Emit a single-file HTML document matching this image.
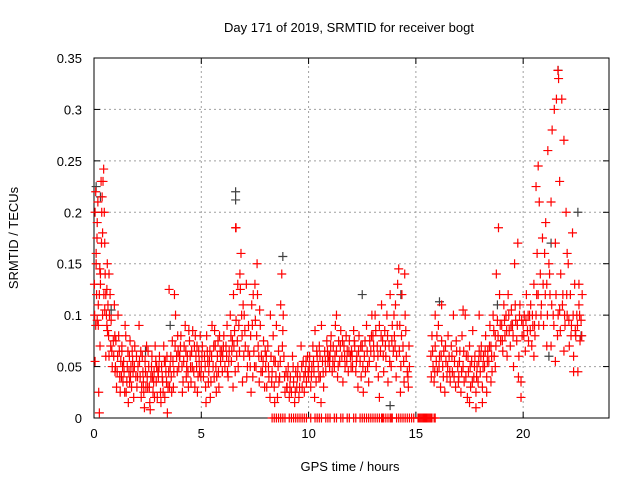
<!DOCTYPE html>
<html><head><meta charset="utf-8"><style>
html,body{margin:0;padding:0;background:#fff}
svg{display:block;font-family:"Liberation Sans",sans-serif}
</style></head><body>
<svg id="chart" width="640" height="480" viewBox="0 0 640 480" xmlns="http://www.w3.org/2000/svg">
<rect x="0" y="0" width="640" height="480" fill="#fff"/>
<g id="grid"></g>
<g id="axes"></g>
<g id="marks"></g>
<text x="349" y="32" font-size="13" text-anchor="middle" fill="#000">Day 171 of 2019, SRMTID for receiver bogt</text>
<text x="350" y="471" font-size="13" text-anchor="middle" fill="#000">GPS time / hours</text>
<text x="0" y="0" font-size="13" text-anchor="middle" fill="#000" transform="translate(18,238) rotate(-90)">SRMTID / TECUs</text>
</svg>
<script>
const xTicks=[0,5,10,15,20];
const yTicks=[0,0.05,0.1,0.15,0.2,0.25,0.3,0.35];
const yTickLabels=["0","0.05","0.1","0.15","0.2","0.25","0.3","0.35"];
const darkPoints=[[0.1,0.225],[0.3,0.215],[0.8,0.105],[6.6,0.22],[6.6,0.212],[8.8,0.157],[3.55,0.09],[12.5,0.12],[16.1,0.113],[18.8,0.11],[21.63,0.338],[21.3,0.17],[21.2,0.06],[22.55,0.2],[22.7,0.08],[13.8,0.012],[19.5,0.09],[2.4,0.065],[14.3,0.12]];
const redPoints=[
[0.02,0.13],[0.05,0.2],[0.08,0.22],[0.1,0.15],[0.12,0.12],[0.15,0.19],[0.18,0.21],[0.2,0.09],[0.22,0.025],[0.25,0.005],[0.28,0.07],[0.3,0.14],[0.33,0.23],[0.36,0.2],[0.4,0.18],[0.42,0.23],[0.45,0.242],[0.48,0.2],[0.5,0.17],[0.52,0.14],[0.55,0.12],[0.58,0.1],[0.6,0.09],[0.62,0.15],[0.65,0.11],[0.68,0.08],[0.7,0.06],[0.72,0.1],[0.75,0.12],[0.78,0.07],[0.8,0.095],[0.85,0.05],[0.9,0.075],[0.92,0.06],[0.95,0.11],[0.98,0.045],[0.1,0.16],[0.3,0.13],[0.6,0.125],[0.15,0.095],[0.4,0.1],[0.5,0.105],[0.05,0.055],[0.2,0.11],[0.7,0.14],[0.35,0.17],[0.25,0.12],
[1.0,0.05],[1.05,0.03],[1.1,0.06],[1.15,0.08],[1.2,0.04],[1.25,0.055],[1.3,0.07],[1.35,0.035],[1.4,0.045],[1.45,0.09],[1.5,0.025],[1.55,0.05],[1.6,0.015],[1.65,0.06],[1.7,0.04],[1.75,0.03],[1.8,0.055],[1.85,0.02],[1.9,0.07],[1.95,0.04],[1.12,0.1],[1.3,0.065],[1.48,0.08],[1.66,0.035],[1.82,0.045],[1.02,0.075],[1.22,0.025],[1.58,0.065],[1.72,0.05],
[2.0,0.03],[2.05,0.05],[2.1,0.09],[2.15,0.04],[2.2,0.02],[2.25,0.06],[2.3,0.035],[2.35,0.01],[2.4,0.045],[2.45,0.07],[2.5,0.03],[2.55,0.05],[2.6,0.015],[2.65,0.04],[2.7,0.06],[2.75,0.025],[2.8,0.045],[2.85,0.07],[2.9,0.035],[2.95,0.02],[2.12,0.055],[2.32,0.025],[2.52,0.065],[2.72,0.04],[2.92,0.05],[2.62,0.008],[2.42,0.03],
[3.0,0.04],[3.05,0.06],[3.1,0.025],[3.15,0.05],[3.2,0.035],[3.25,0.07],[3.3,0.02],[3.35,0.045],[3.4,0.06],[3.45,0.03],[3.5,0.125],[3.55,0.05],[3.6,0.04],[3.65,0.075],[3.7,0.03],[3.75,0.12],[3.8,0.1],[3.85,0.06],[3.9,0.08],[3.95,0.05],[3.12,0.015],[3.32,0.055],[3.52,0.03],[3.72,0.045],[3.92,0.065],[3.42,0.005],
[4.0,0.06],[4.05,0.08],[4.1,0.05],[4.15,0.035],[4.2,0.07],[4.25,0.09],[4.3,0.04],[4.35,0.06],[4.4,0.03],[4.45,0.075],[4.5,0.05],[4.55,0.065],[4.6,0.085],[4.65,0.045],[4.7,0.03],[4.75,0.06],[4.8,0.07],[4.85,0.04],[4.9,0.055],[4.95,0.08],[4.12,0.025],[4.32,0.05],[4.52,0.035],[4.72,0.08],[4.92,0.045],
[5.0,0.05],[5.05,0.07],[5.1,0.04],[5.15,0.06],[5.2,0.03],[5.25,0.08],[5.3,0.055],[5.35,0.045],[5.4,0.065],[5.45,0.035],[5.5,0.09],[5.55,0.05],[5.6,0.04],[5.65,0.07],[5.7,0.025],[5.75,0.06],[5.8,0.045],[5.85,0.08],[5.9,0.055],[5.95,0.065],[5.22,0.015],[5.42,0.02],[5.62,0.085],[5.82,0.03],
[6.0,0.06],[6.05,0.08],[6.1,0.05],[6.15,0.07],[6.2,0.09],[6.25,0.04],[6.3,0.065],[6.35,0.1],[6.4,0.055],[6.45,0.075],[6.5,0.12],[6.55,0.085],[6.6,0.185],[6.62,0.185],[6.65,0.06],[6.7,0.13],[6.75,0.09],[6.8,0.14],[6.85,0.16],[6.9,0.08],[6.95,0.11],[6.48,0.03],[6.58,0.045],[6.72,0.05],[6.92,0.035],[6.82,0.125],
[7.0,0.1],[7.05,0.07],[7.1,0.13],[7.15,0.05],[7.2,0.09],[7.25,0.06],[7.3,0.08],[7.35,0.11],[7.4,0.04],[7.45,0.065],[7.5,0.13],[7.55,0.05],[7.6,0.15],[7.65,0.07],[7.7,0.035],[7.75,0.09],[7.8,0.06],[7.85,0.045],[7.9,0.075],[7.95,0.03],[7.12,0.04],[7.32,0.025],[7.52,0.095],[7.72,0.105],
[8.0,0.05],[8.05,0.03],[8.1,0.07],[8.15,0.04],[8.2,0.02],[8.25,0.06],[8.3,0.045],[8.35,0.08],[8.4,0.03],[8.45,0.055],[8.5,0.09],[8.55,0.02],[8.6,0.065],[8.65,0.04],[8.7,0.11],[8.75,0.14],[8.8,0.085],[8.85,0.06],[8.9,0.025],[8.95,0.045],[8.22,0.1],[8.42,0.015],[8.62,0.035],[8.82,0.1],[8.3,0],[8.5,0],[8.7,0],[8.9,0],
[9.0,0.03],[9.05,0.05],[9.1,0.02],[9.15,0.04],[9.2,0.025],[9.25,0.06],[9.3,0.035],[9.35,0.015],[9.4,0.045],[9.45,0.03],[9.5,0.05],[9.55,0.02],[9.6,0.04],[9.65,0.07],[9.7,0.03],[9.75,0.055],[9.8,0.025],[9.85,0.045],[9.9,0.035],[9.95,0.06],[9.2,0],[9.4,0],[9.6,0],[9.8,0],[9.9,0],
[10.0,0.04],[10.05,0.06],[10.1,0.03],[10.15,0.05],[10.2,0.07],[10.25,0.045],[10.3,0.085],[10.35,0.035],[10.4,0.06],[10.45,0.05],[10.5,0.07],[10.55,0.04],[10.6,0.09],[10.65,0.055],[10.7,0.03],[10.75,0.065],[10.8,0.045],[10.85,0.075],[10.9,0.055],[10.95,0.06],[10.28,0.02],[10.58,0.015],[10.3,0],[10.5,0],[10.6,0],[10.9,0],
[11.0,0.06],[11.05,0.08],[11.1,0.045],[11.15,0.07],[11.2,0.05],[11.25,0.09],[11.3,0.065],[11.35,0.04],[11.4,0.075],[11.45,0.055],[11.5,0.085],[11.55,0.06],[11.6,0.035],[11.65,0.07],[11.7,0.05],[11.75,0.08],[11.8,0.065],[11.85,0.045],[11.9,0.075],[11.95,0.06],[11.3,0.1],[11.0,0],[11.3,0],[11.5,0],[11.8,0],
[12.0,0.065],[12.05,0.05],[12.1,0.085],[12.15,0.07],[12.2,0.045],[12.25,0.06],[12.3,0.03],[12.35,0.08],[12.4,0.055],[12.45,0.04],[12.5,0.07],[12.55,0.025],[12.6,0.06],[12.65,0.045],[12.7,0.09],[12.75,0.05],[12.8,0.035],[12.85,0.075],[12.9,0.065],[12.95,0.1],[12.2,0],[12.5,0],[12.7,0],[12.9,0],
[13.0,0.08],[13.05,0.06],[13.1,0.1],[13.15,0.05],[13.2,0.07],[13.25,0.04],[13.3,0.09],[13.35,0.065],[13.4,0.11],[13.45,0.075],[13.5,0.045],[13.55,0.085],[13.6,0.06],[13.65,0.1],[13.7,0.035],[13.75,0.07],[13.8,0.12],[13.85,0.05],[13.9,0.09],[13.95,0.065],[13.3,0.02],[13.0,0],[13.1,0],[13.2,0],[13.3,0],[13.4,0],[13.5,0],[13.6,0],[13.8,0],[13.9,0],
[14.0,0.08],[14.05,0.11],[14.1,0.06],[14.15,0.13],[14.2,0.145],[14.25,0.09],[14.3,0.05],[14.35,0.12],[14.4,0.07],[14.45,0.035],[14.5,0.1],[14.55,0.06],[14.6,0.045],[14.65,0.03],[14.7,0.05],[14.08,0.04],[14.28,0.025],[14.48,0.14],[14.1,0],[14.3,0],[14.5,0],[14.7,0],[14.9,0],
[15.1,0],[15.2,0],[15.3,0],[15.45,0],[15.55,0],[15.65,0],[15.75,0],[15.9,0],
[15.7,0.06],[15.72,0.04],[15.75,0.08],[15.8,0.05],[15.85,0.035],[15.9,0.07],[15.95,0.055],[16.0,0.045],[16.05,0.09],[16.1,0.06],[16.15,0.03],[16.2,0.075],[16.25,0.05],[16.3,0.065],[16.35,0.025],[16.4,0.055],[16.45,0.04],[16.5,0.08],[16.55,0.06],[16.6,0.035],[16.65,0.07],[16.7,0.045],[16.75,0.1],[16.8,0.055],[16.85,0.03],[16.9,0.065],[16.95,0.05],[15.9,0.1],[16.2,0.11],
[17.0,0.04],[17.05,0.065],[17.1,0.025],[17.15,0.08],[17.2,0.05],[17.25,0.035],[17.3,0.1],[17.35,0.06],[17.4,0.02],[17.45,0.045],[17.5,0.07],[17.55,0.03],[17.6,0.055],[17.65,0.085],[17.7,0.04],[17.75,0.06],[17.8,0.025],[17.85,0.05],[17.9,0.035],[17.95,0.065],[17.2,0.105],[17.5,0.015],[17.8,0.01],[17.95,0.1],
[18.0,0.045],[18.05,0.07],[18.1,0.03],[18.15,0.06],[18.2,0.05],[18.25,0.08],[18.3,0.04],[18.35,0.065],[18.4,0.055],[18.45,0.09],[18.5,0.07],[18.55,0.045],[18.6,0.1],[18.65,0.06],[18.7,0.08],[18.75,0.14],[18.8,0.095],[18.85,0.185],[18.9,0.12],[18.95,0.075],[18.1,0.015],[18.3,0.025],[18.5,0.035],[18.7,0.05],
[19.0,0.09],[19.05,0.065],[19.1,0.11],[19.15,0.08],[19.2,0.1],[19.25,0.06],[19.3,0.12],[19.35,0.085],[19.4,0.07],[19.45,0.105],[19.5,0.09],[19.55,0.05],[19.6,0.15],[19.65,0.095],[19.7,0.075],[19.75,0.17],[19.8,0.06],[19.85,0.11],[19.9,0.035],[19.95,0.08],[19.78,0.04],[19.9,0.02],
[20.0,0.09],[20.05,0.1],[20.1,0.065],[20.15,0.12],[20.2,0.085],[20.25,0.075],[20.3,0.1],[20.35,0.11],[20.4,0.07],[20.45,0.09],[20.5,0.13],[20.55,0.08],[20.6,0.1],[20.65,0.16],[20.7,0.12],[20.75,0.21],[20.8,0.14],[20.85,0.11],[20.9,0.175],[20.95,0.09],[20.5,0.06],[20.6,0.225],[20.7,0.245],
[21.0,0.16],[21.05,0.19],[21.1,0.07],[21.15,0.26],[21.2,0.15],[21.25,0.12],[21.3,0.21],[21.35,0.28],[21.4,0.1],[21.45,0.3],[21.5,0.17],[21.55,0.31],[21.6,0.08],[21.65,0.33],[21.7,0.23],[21.75,0.14],[21.8,0.31],[21.85,0.12],[21.9,0.27],[21.95,0.09],[21.1,0.13],[21.3,0.07],[21.5,0.055],[21.7,0.105],[21.9,0.065],[21.62,0.338],
[22.0,0.2],[22.05,0.1],[22.1,0.15],[22.15,0.07],[22.2,0.12],[22.25,0.09],[22.3,0.18],[22.35,0.06],[22.4,0.13],[22.45,0.08],[22.5,0.1],[22.55,0.045],[22.6,0.11],[22.65,0.075],[22.7,0.095],[22.75,0.12],[22.05,0.16],[22.35,0.045],[22.6,0.13]
];
const redPointsExtra=[
[0.03,0.1],[0.14,0.175],[0.27,0.145],[0.38,0.215],[0.46,0.12],[0.63,0.085],[0.83,0.065],[0.97,0.08],[0.08,0.09],[0.55,0.06],
[1.08,0.045],[1.18,0.065],[1.28,0.04],[1.38,0.055],[1.43,0.025],[1.53,0.035],[1.63,0.045],[1.78,0.065],[1.88,0.05],[1.98,0.06],[1.33,0.05],[1.68,0.075],
[2.03,0.04],[2.18,0.065],[2.28,0.045],[2.38,0.055],[2.48,0.04],[2.58,0.03],[2.68,0.05],[2.78,0.035],[2.88,0.055],[2.98,0.045],[2.22,0.03],[2.82,0.02],
[3.03,0.05],[3.18,0.04],[3.28,0.055],[3.38,0.035],[3.48,0.045],[3.58,0.06],[3.68,0.055],[3.78,0.07],[3.88,0.045],[3.98,0.06],[3.22,0.025],[3.62,0.025],
[4.03,0.07],[4.18,0.055],[4.28,0.065],[4.38,0.045],[4.48,0.06],[4.58,0.05],[4.68,0.07],[4.78,0.05],[4.88,0.065],[4.98,0.04],[4.42,0.085],[4.82,0.025],
[5.03,0.06],[5.18,0.05],[5.28,0.065],[5.38,0.055],[5.48,0.06],[5.58,0.07],[5.68,0.05],[5.78,0.075],[5.88,0.065],[5.98,0.045],[5.33,0.035],[5.72,0.04],
[6.03,0.07],[6.18,0.06],[6.28,0.055],[6.38,0.08],[6.42,0.065],[6.52,0.07],[6.68,0.075],[6.78,0.065],[6.88,0.1],[6.98,0.06],[6.22,0.045],[6.62,0.095],
[7.03,0.085],[7.18,0.065],[7.28,0.05],[7.38,0.09],[7.48,0.05],[7.58,0.08],[7.68,0.06],[7.78,0.045],[7.88,0.055],[7.98,0.065],[7.42,0.12],[7.62,0.12],
[8.03,0.06],[8.13,0.05],[8.28,0.035],[8.38,0.055],[8.48,0.04],[8.58,0.05],[8.68,0.055],[8.78,0.07],[8.88,0.04],[8.98,0.03],[8.4,0],[8.6,0],[8.8,0],
[9.03,0.04],[9.13,0.03],[9.28,0.05],[9.38,0.025],[9.48,0.04],[9.58,0.03],[9.68,0.05],[9.78,0.04],[9.88,0.055],[9.98,0.045],[9.1,0],[9.3,0],[9.5,0],[9.7,0],
[10.03,0.05],[10.13,0.04],[10.23,0.055],[10.38,0.065],[10.48,0.04],[10.53,0.06],[10.68,0.045],[10.78,0.055],[10.88,0.065],[10.98,0.05],[10.1,0],[10.4,0],[10.8,0],
[11.03,0.07],[11.13,0.055],[11.23,0.06],[11.38,0.05],[11.48,0.07],[11.58,0.075],[11.68,0.06],[11.78,0.055],[11.88,0.065],[11.98,0.05],[11.2,0],[11.6,0],[11.9,0],
[12.03,0.06],[12.13,0.075],[12.23,0.055],[12.33,0.065],[12.43,0.07],[12.53,0.05],[12.63,0.075],[12.73,0.065],[12.83,0.055],[12.93,0.08],[12.1,0],[12.4,0],[12.6,0],[12.8,0],
[13.03,0.07],[13.13,0.085],[13.23,0.06],[13.38,0.08],[13.48,0.06],[13.58,0.07],[13.68,0.08],[13.78,0.055],[13.88,0.075],[13.98,0.1],[13.7,0],[13.85,0],[13.45,0],
[14.03,0.07],[14.13,0.09],[14.23,0.065],[14.33,0.08],[14.43,0.055],[14.53,0.085],[14.63,0.04],[14.68,0.07],[14.2,0],[14.4,0],[14.6,0],[14.8,0],
[15.15,0],[15.25,0],[15.35,0],[15.4,0],[15.5,0],[15.6,0],[15.7,0],[15.85,0],
[15.78,0.065],[15.88,0.045],[15.98,0.08],[16.08,0.05],[16.18,0.06],[16.28,0.04],[16.38,0.07],[16.48,0.05],[16.58,0.045],[16.68,0.06],[16.78,0.04],[16.88,0.075],[16.98,0.035],
[17.03,0.055],[17.13,0.045],[17.23,0.065],[17.33,0.04],[17.43,0.06],[17.53,0.05],[17.63,0.035],[17.73,0.05],[17.83,0.04],[17.93,0.055],
[18.03,0.06],[18.13,0.05],[18.23,0.065],[18.33,0.055],[18.43,0.07],[18.53,0.06],[18.63,0.085],[18.73,0.07],[18.83,0.08],[18.93,0.09],
[19.03,0.075],[19.13,0.095],[19.23,0.085],[19.33,0.1],[19.43,0.09],[19.53,0.08],[19.63,0.11],[19.73,0.09],[19.83,0.1],[19.93,0.095],
[20.03,0.08],[20.13,0.095],[20.23,0.1],[20.33,0.085],[20.43,0.1],[20.53,0.09],[20.63,0.12],[20.73,0.09],[20.83,0.1],[20.93,0.13],
[21.03,0.12],[21.13,0.1],[21.23,0.14],[21.33,0.11],[21.43,0.09],[21.53,0.12],[21.63,0.1],[21.73,0.085],[21.83,0.11],[21.93,0.1],
[22.03,0.12],[22.13,0.095],[22.23,0.08],[22.33,0.1],[22.43,0.085],[22.53,0.09],[22.63,0.1],[22.73,0.08]
];
const X0=94,X1=609,Y0=418,Y1=58,XMAX=24,YMAX=0.35;
function xs(v){return X0+(X1-X0)*v/XMAX;}
function ys(v){return Y0-(Y0-Y1)*v/YMAX;}
const NS="http://www.w3.org/2000/svg";
function mk(tag,attrs,parent){const e=document.createElementNS(NS,tag);for(const k in attrs)e.setAttribute(k,attrs[k]);parent.appendChild(e);return e;}
const grid=document.getElementById('grid'),axes=document.getElementById('axes'),marks=document.getElementById('marks');
xTicks.forEach(function(t){
  const x=xs(t);
  if(t>0){const g=mk('line',{x1:x,y1:Y0,x2:x,y2:Y1,stroke:'#a0a0a0','stroke-dasharray':'2,3','stroke-width':1},grid);
  
  }
  mk('line',{x1:x,y1:Y0,x2:x,y2:Y0-6,stroke:'#000'},axes);
  mk('line',{x1:x,y1:Y1,x2:x,y2:Y1+6,stroke:'#000'},axes);
  const l=mk('text',{x:x,y:Y0+20,'font-size':13,'text-anchor':'middle',fill:'#000'},axes);
  l.textContent=String(t);
  
  
});
yTicks.forEach(function(t,i){
  const y=ys(t);
  if(t>0&&t<YMAX){const g=mk('line',{x1:X0,y1:y,x2:X1,y2:y,stroke:'#a0a0a0','stroke-dasharray':'2,3','stroke-width':1},grid);
  
  }
  mk('line',{x1:X0,y1:y,x2:X0+6,y2:y,stroke:'#000'},axes);
  mk('line',{x1:X1,y1:y,x2:X1-6,y2:y,stroke:'#000'},axes);
  const l=mk('text',{x:X0-12,y:y+5,'font-size':13,'text-anchor':'end',fill:'#000'},axes);
  l.textContent=yTickLabels[i];
  
  
});
const fr=mk('rect',{x:X0,y:Y1,width:X1-X0,height:Y0-Y1,fill:'none',stroke:'#000','stroke-width':1},axes);


function plus(p,color,name){
  const x=xs(p[0]),y=ys(p[1]);
  const e=mk('path',{d:'M'+(x-4.5)+' '+y+'H'+(x+4.5)+'M'+x+' '+(y-4.5)+'V'+(y+4.5),stroke:color,'stroke-width':1.2,fill:'none'},marks);
  
  
}
darkPoints.forEach(function(p){plus(p,'#404040','dark-point');});
redPoints.forEach(function(p){plus(p,'#ff0000','srmtid-point');});
redPointsExtra.forEach(function(p){plus(p,'#ff0000','srmtid-point');});
</script>
</body></html>
